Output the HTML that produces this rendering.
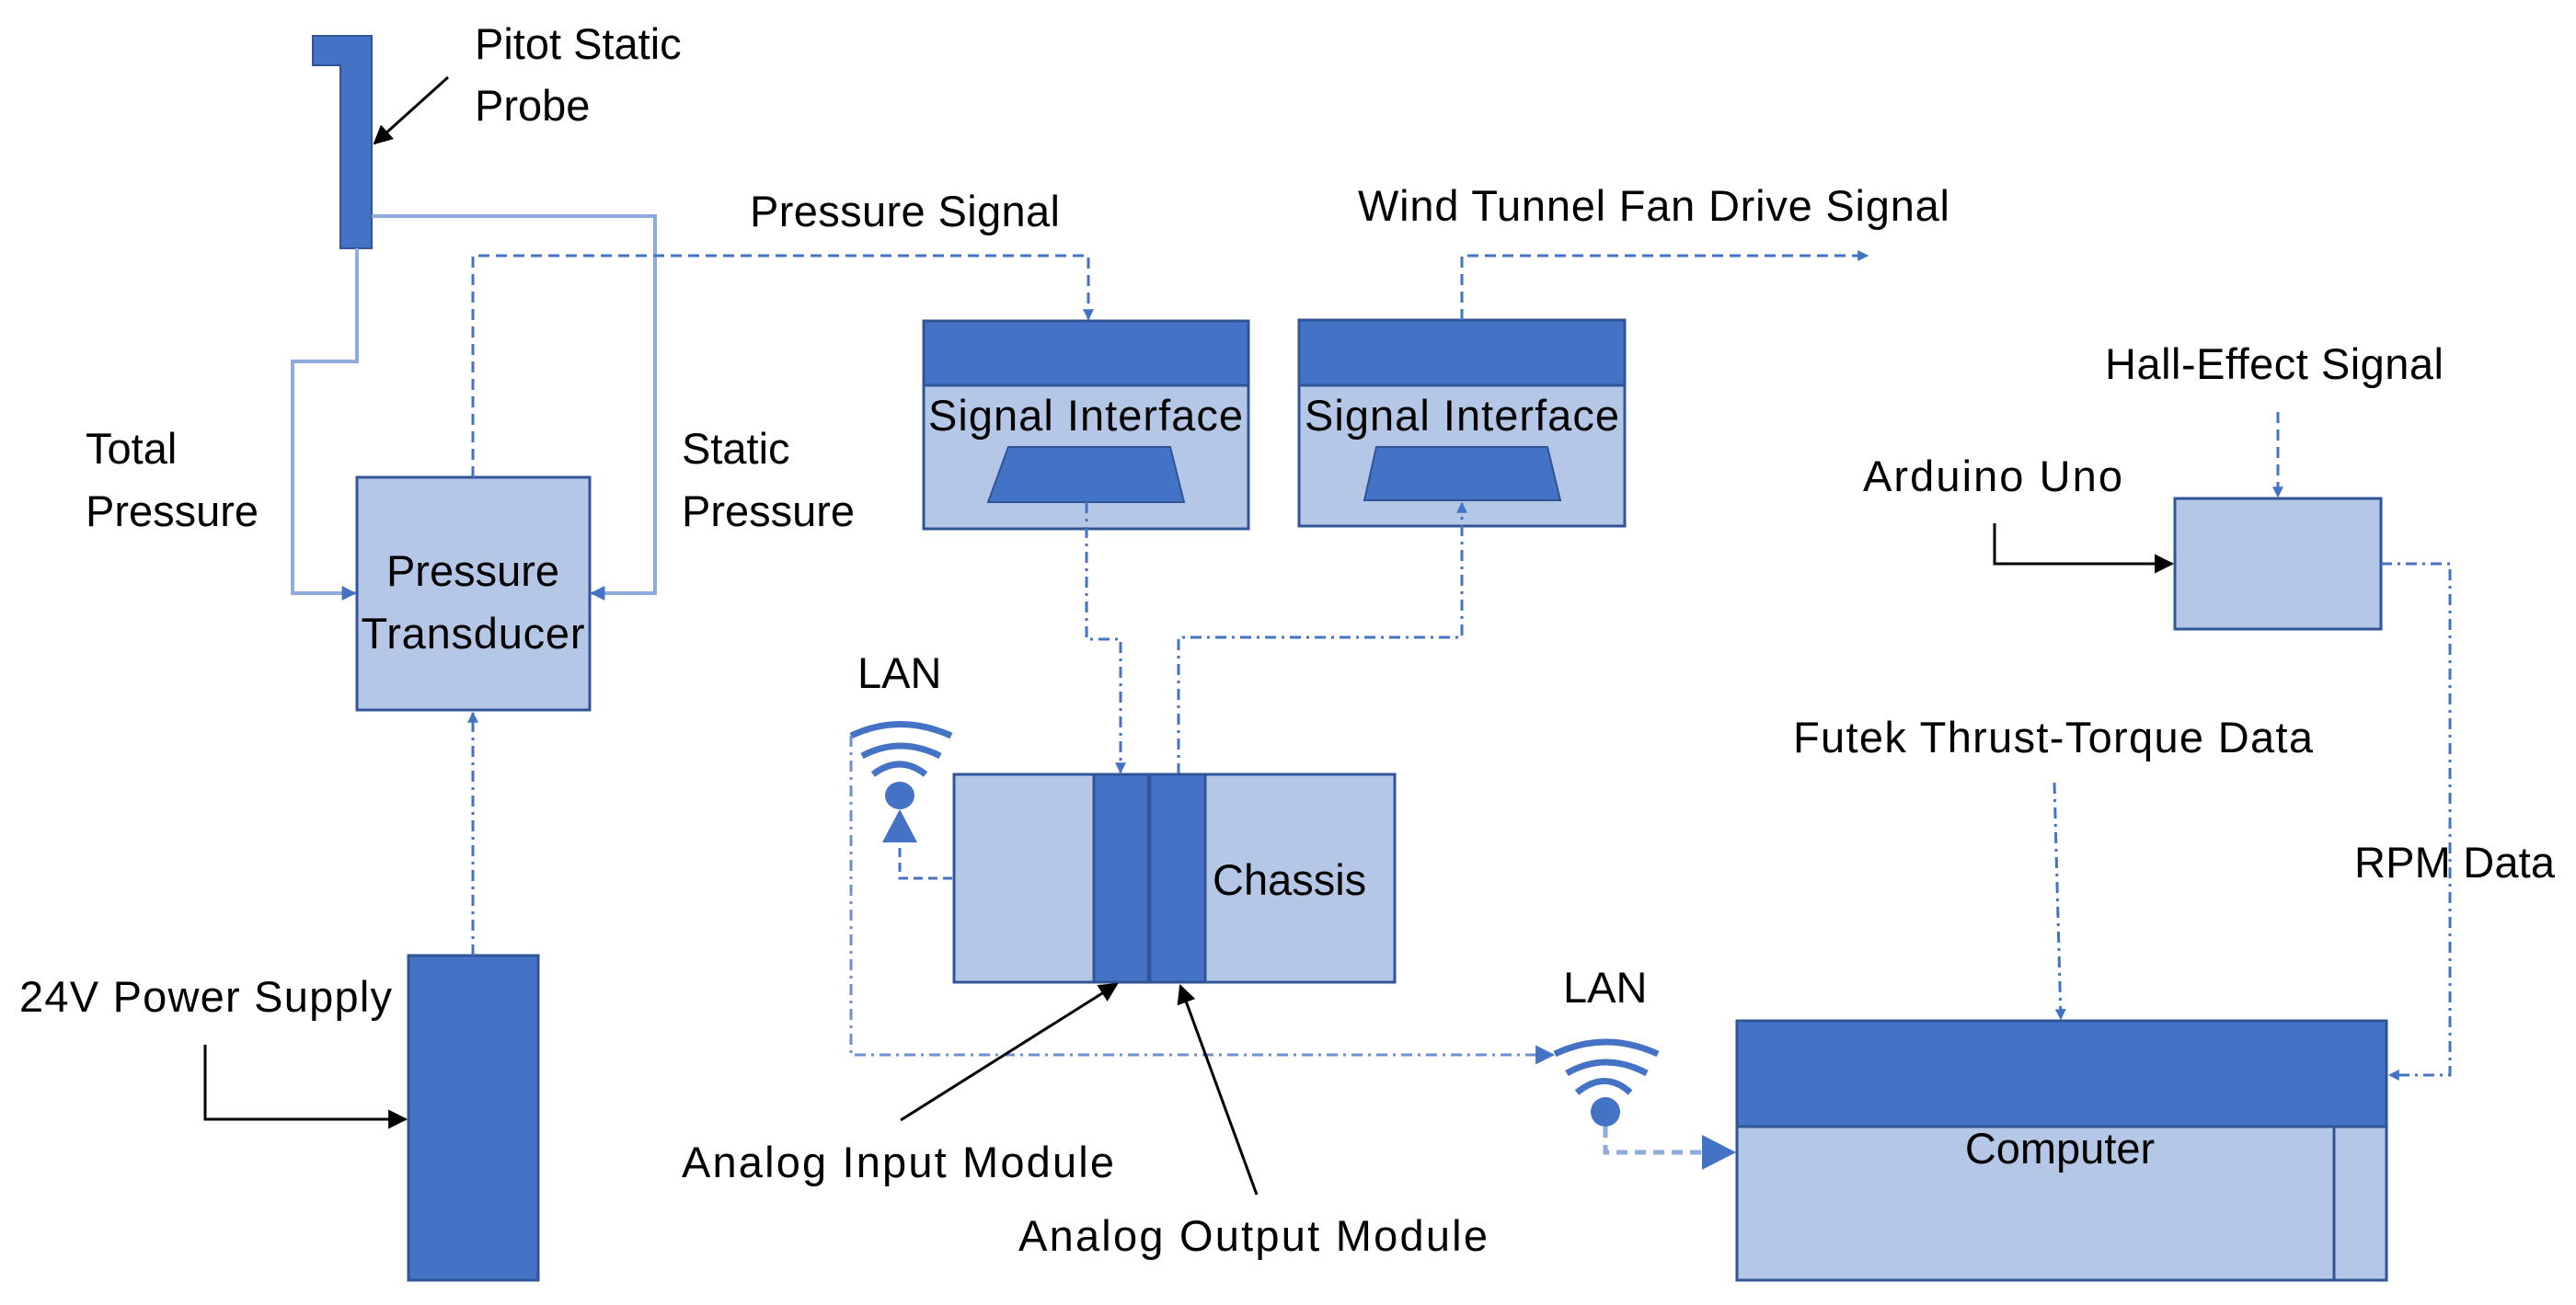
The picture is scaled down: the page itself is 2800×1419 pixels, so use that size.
<!DOCTYPE html>
<html><head><meta charset="utf-8"><style>
html,body{margin:0;padding:0;background:#fff;}
svg{display:block;}
text{font-family:"Liberation Sans",sans-serif;font-size:47px;fill:#000;}
</style></head><body>
<svg width="2800" height="1419" viewBox="0 0 2800 1419" xmlns="http://www.w3.org/2000/svg">
<defs>
<marker id="ab" viewBox="0 0 10 10" refX="9" refY="5" markerWidth="4" markerHeight="4" orient="auto" markerUnits="strokeWidth"><path d="M0,0L10,5L0,10z" fill="#4472C4"/></marker>
<marker id="abl" viewBox="0 0 10 10" refX="9" refY="5" markerWidth="7" markerHeight="7" orient="auto" markerUnits="strokeWidth"><path d="M0,0L10,5L0,10z" fill="#4472C4"/></marker>
<marker id="ak" viewBox="0 0 10 10" refX="9" refY="5" markerWidth="7" markerHeight="7" orient="auto" markerUnits="strokeWidth"><path d="M0,0L10,5L0,10z" fill="#000"/></marker>
</defs>

<!-- Pitot probe -->
<polygon points="340,39 404,39 404,270 370,270 370,71 340,71" fill="#4472C4" stroke="#2F5597" stroke-width="2"/>
<line x1="487" y1="84" x2="407" y2="156" stroke="#000" stroke-width="3" marker-end="url(#ak)"/>
<text x="516" y="64">Pitot Static</text>
<text x="516" y="131">Probe</text>

<!-- total/static pressure lines -->
<polyline points="388,270 388,393 318,393 318,645 386,645" fill="none" stroke="#8FAADC" stroke-width="4" marker-end="url(#ab)"/>
<polyline points="404,235 712,235 712,645 643,645" fill="none" stroke="#8FAADC" stroke-width="4" marker-end="url(#ab)"/>
<text x="93" y="504">Total</text>
<text x="93" y="572">Pressure</text>
<text x="741" y="504">Static</text>
<text x="741" y="572">Pressure</text>

<!-- Transducer -->
<rect x="388" y="519" width="253" height="253" fill="#B4C7E7" stroke="#2F5597" stroke-width="3"/>
<text x="514" y="637" text-anchor="middle">Pressure</text>
<text x="514" y="705" text-anchor="middle" textLength="243">Transducer</text>

<!-- pressure signal -->
<polyline points="514,519 514,278 1183,278 1183,347" fill="none" stroke="#4472C4" stroke-width="3" stroke-dasharray="12,7" marker-end="url(#ab)"/>
<text x="815" y="246" textLength="337">Pressure Signal</text>

<!-- Signal interface 1 -->
<rect x="1004" y="349" width="353" height="226" fill="#B4C7E7" stroke="#2F5597" stroke-width="3"/>
<rect x="1004" y="349" width="353" height="70" fill="#4472C4" stroke="#2F5597" stroke-width="3"/>
<text x="1180" y="468" text-anchor="middle" textLength="342">Signal Interface</text>
<polygon points="1096,486 1272,486 1287,546 1074,546" fill="#4472C4" stroke="#2F5597" stroke-width="2"/>

<!-- Signal interface 2 -->
<rect x="1412" y="348" width="354" height="224" fill="#B4C7E7" stroke="#2F5597" stroke-width="3"/>
<rect x="1412" y="348" width="354" height="71" fill="#4472C4" stroke="#2F5597" stroke-width="3"/>
<text x="1589" y="468" text-anchor="middle" textLength="342">Signal Interface</text>
<polygon points="1496,486 1682,486 1696,544 1483,544" fill="#4472C4" stroke="#2F5597" stroke-width="2"/>

<!-- fan drive -->
<polyline points="1589,348 1589,278 2030,278" fill="none" stroke="#4472C4" stroke-width="3" stroke-dasharray="12,7" marker-end="url(#ab)"/>
<text x="1476" y="240" textLength="643">Wind Tunnel Fan Drive Signal</text>

<!-- SI to chassis lines -->
<polyline points="1181,546 1181,695 1218,695 1218,840" fill="none" stroke="#4472C4" stroke-width="3" stroke-dasharray="12,6,3,6" marker-end="url(#ab)"/>
<polyline points="1281,842 1281,693 1589,693 1589,547" fill="none" stroke="#4472C4" stroke-width="3" stroke-dasharray="12,6,3,6" marker-end="url(#ab)"/>

<!-- Chassis -->
<rect x="1037" y="842" width="479" height="226" fill="#B4C7E7" stroke="#2F5597" stroke-width="3"/>
<rect x="1189" y="842" width="59" height="226" fill="#4472C4" stroke="#2F5597" stroke-width="3"/>
<rect x="1250" y="842" width="60" height="226" fill="#4472C4" stroke="#2F5597" stroke-width="3"/>
<text x="1318" y="973">Chassis</text>

<!-- LAN 1 -->
<text x="932" y="748">LAN</text>
<g fill="none" stroke="#4472C4" stroke-width="7">
<path d="M925,800 Q978,775 1034,800"/>
<path d="M937,822 Q978,800 1022,822"/>
<path d="M949,842 Q978,820 1006,842"/>
</g>
<ellipse cx="978" cy="865" rx="16" ry="15" fill="#4472C4"/>
<polygon points="978,880 997,916 959,916" fill="#4472C4"/>
<polyline points="978,922 978,955 1037,955" fill="none" stroke="#4472C4" stroke-width="3" stroke-dasharray="10,6"/>
<polyline points="925,800 925,1147 1688,1147" fill="none" stroke="#6D8FD4" stroke-width="3" stroke-dasharray="12,6,3,6" marker-end="url(#abl)"/>

<!-- Analog modules labels -->
<line x1="979" y1="1218" x2="1214" y2="1070" stroke="#000" stroke-width="3" marker-end="url(#ak)"/>
<line x1="1366" y1="1299" x2="1283" y2="1072" stroke="#000" stroke-width="3" marker-end="url(#ak)"/>
<text x="741" y="1280" textLength="470">Analog Input Module</text>
<text x="1107" y="1360" textLength="510">Analog Output Module</text>

<!-- LAN 2 -->
<text x="1699" y="1090">LAN</text>
<g fill="none" stroke="#4472C4" stroke-width="7">
<path d="M1690,1146 Q1745,1120 1802,1146"/>
<path d="M1703,1167 Q1745,1143 1790,1167"/>
<path d="M1714,1188 Q1745,1163 1772,1188"/>
</g>
<ellipse cx="1745" cy="1209" rx="16" ry="16" fill="#4472C4"/>
<polyline points="1745,1225 1745,1253 1850,1253" fill="none" stroke="#8FAADC" stroke-width="5" stroke-dasharray="12,8"/>
<polygon points="1850,1234 1887,1253 1850,1272" fill="#4472C4"/>

<!-- Computer -->
<rect x="1888" y="1110" width="706" height="282" fill="#B4C7E7" stroke="#2F5597" stroke-width="3"/>
<rect x="1888" y="1110" width="706" height="115" fill="#4472C4" stroke="#2F5597" stroke-width="3"/>
<line x1="2537" y1="1225" x2="2537" y2="1392" stroke="#2F5597" stroke-width="3"/>
<text x="2239" y="1265" text-anchor="middle">Computer</text>

<!-- Futek -->
<text x="1949" y="818" textLength="565">Futek Thrust-Torque Data</text>
<line x1="2233" y1="851" x2="2240" y2="1108" stroke="#4472C4" stroke-width="3" stroke-dasharray="12,6,3,6" marker-end="url(#ab)"/>

<!-- Arduino -->
<text x="2288" y="412" textLength="368">Hall-Effect Signal</text>
<line x1="2476" y1="448" x2="2476" y2="540" stroke="#4472C4" stroke-width="3" stroke-dasharray="12,7" marker-end="url(#ab)"/>
<text x="2025" y="534" textLength="282">Arduino Uno</text>
<polyline points="2168,569 2168,613 2361,613" fill="none" stroke="#000" stroke-width="3" marker-end="url(#ak)"/>
<rect x="2364" y="542" width="224" height="142" fill="#B4C7E7" stroke="#2F5597" stroke-width="3"/>
<polyline points="2588,613 2663,613 2663,1169 2597,1169" fill="none" stroke="#4472C4" stroke-width="3" stroke-dasharray="12,6,3,6" marker-end="url(#ab)"/>
<text x="2559" y="954" textLength="218">RPM Data</text>

<!-- Power supply -->
<rect x="444" y="1039" width="141" height="353" fill="#4472C4" stroke="#2F5597" stroke-width="3"/>
<line x1="514" y1="1039" x2="514" y2="775" stroke="#4472C4" stroke-width="3" stroke-dasharray="12,6,3,6" marker-end="url(#ab)"/>
<text x="21" y="1100" textLength="405">24V Power Supply</text>
<polyline points="223,1136 223,1217 441,1217" fill="none" stroke="#000" stroke-width="3" marker-end="url(#ak)"/>
</svg>
</body></html>
